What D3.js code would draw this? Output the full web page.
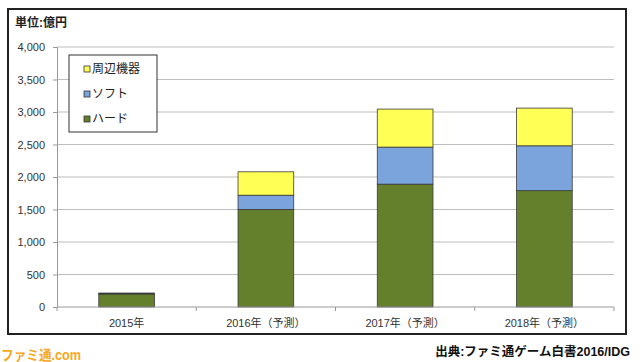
<!DOCTYPE html>
<html>
<head>
<meta charset="utf-8">
<script src="https://cdn.jsdelivr.net/npm/d3@7"></script>
<style>
  html, body { margin: 0; padding: 0; background: #fff; }
  svg { display: block; font-family: "Liberation Sans", "Noto Sans CJK JP", sans-serif; }
</style>
</head>
<body>
<div id="chart"></div>
<script>
const categories = ["2015年", "2016年（予測）", "2017年（予測）", "2018年（予測）"];
const hard = [200, 1500, 1890, 1790];
const soft = [5, 220, 570, 690];
const peripheral = [10, 360, 585, 580];
const seriesNames = ["ハード", "ソフト", "周辺機器"];
const seriesColors = ["#64802c", "#7ba3dc", "#ffff55"];
const yTicks = [0, 500, 1000, 1500, 2000, 2500, 3000, 3500, 4000];

const W = 640, H = 362;
const svg = d3.select("#chart").append("svg").attr("width", W).attr("height", H);

// outer frame
svg.append("rect").attr("x", 8).attr("y", 9).attr("width", 618).attr("height", 325)
  .attr("fill", "none").attr("stroke", "#222").attr("stroke-width", 2);

const plot = { left: 57, right: 614, top: 47, bottom: 307 };

const x = d3.scaleBand().domain(categories)
  .range([plot.left, plot.right]).paddingInner(0.6).paddingOuter(0.3);
const y = d3.scaleLinear().domain([0, 4000]).range([plot.bottom, plot.top]);

// gridlines
svg.append("g").selectAll("line").data(yTicks.filter(d => d > 0)).join("line")
  .attr("x1", plot.left).attr("x2", plot.right)
  .attr("y1", d => y(d)).attr("y2", d => y(d))
  .attr("stroke", "#bdbdbd").attr("stroke-width", 1.2);

// y axis
const yAxis = svg.append("g").attr("transform", `translate(${plot.left},0)`)
  .call(d3.axisLeft(y).tickValues(yTicks).tickFormat(d3.format(",")).tickSize(4).tickPadding(8));
yAxis.select(".domain").attr("stroke", "#999");
yAxis.selectAll(".tick line").attr("stroke", "#999");
yAxis.selectAll("text").attr("font-size", 11).attr("fill", "#333");

// stacked bars
const rows = categories.map((c, i) => ({ cat: c, hard: hard[i], soft: soft[i], peripheral: peripheral[i] }));
const stack = d3.stack().keys(["hard", "soft", "peripheral"])(rows);
svg.append("g").selectAll("g").data(stack).join("g")
  .attr("fill", (d, i) => seriesColors[i])
  .selectAll("rect").data(d => d).join("rect")
  .attr("x", d => x(d.data.cat))
  .attr("width", x.bandwidth())
  .attr("y", d => y(d[1]))
  .attr("height", d => y(d[0]) - y(d[1]))
  .attr("stroke", "#3a3a3a").attr("stroke-width", 0.8);

// x axis
const xAxis = svg.append("g").attr("transform", `translate(0,${plot.bottom})`);
xAxis.append("line").attr("x1", plot.left).attr("x2", plot.right)
  .attr("y1", 0).attr("y2", 0).attr("stroke", "#999");
const step = x.step();
const bounds = d3.range(categories.length + 1).map(i => plot.left + i * step);
xAxis.selectAll("line.tk").data(bounds).join("line").attr("class", "tk")
  .attr("x1", d => d).attr("x2", d => d).attr("y1", 0).attr("y2", 4).attr("stroke", "#999");
xAxis.selectAll("text").data(categories).join("text")
  .attr("x", d => x(d) + x.bandwidth() / 2).attr("y", 20)
  .attr("text-anchor", "middle").attr("font-size", 11).attr("fill", "#333")
  .text(d => d);

// title
svg.append("text").attr("x", 15).attr("y", 27).attr("font-size", 12).attr("font-weight", "bold")
  .attr("fill", "#222").text("単位:億円");

// legend
const lg = svg.append("g");
lg.append("rect").attr("x", 69).attr("y", 55).attr("width", 88).attr("height", 77)
  .attr("fill", "#fff").attr("stroke", "#333").attr("stroke-width", 1);
const legendOrder = [2, 1, 0];
legendOrder.forEach((s, i) => {
  const cy = 69 + i * 25;
  lg.append("rect").attr("x", 84).attr("y", cy - 3).attr("width", 6).attr("height", 6)
    .attr("fill", seriesColors[s]).attr("stroke", "#333").attr("stroke-width", 0.8);
  lg.append("text").attr("x", 92).attr("y", cy + 4).attr("font-size", 12).attr("fill", "#222")
    .text(seriesNames[s]);
});

// source
svg.append("text").attr("x", 630).attr("y", 356).attr("text-anchor", "end")
  .attr("font-size", 12.5).attr("font-weight", "bold").attr("fill", "#111")
  .text("出典:ファミ通ゲーム白書2016/IDG");

// watermark
svg.append("text").attr("x", 1).attr("y", 360).attr("font-size", 14).attr("font-weight", "bold")
  .attr("fill", "#f7a823").attr("stroke", "#fff").attr("stroke-width", 0.6)
  .attr("paint-order", "stroke").attr("textLength", 80).attr("lengthAdjust", "spacingAndGlyphs")
  .text("ファミ通.com");
</script>
</body>
</html>
